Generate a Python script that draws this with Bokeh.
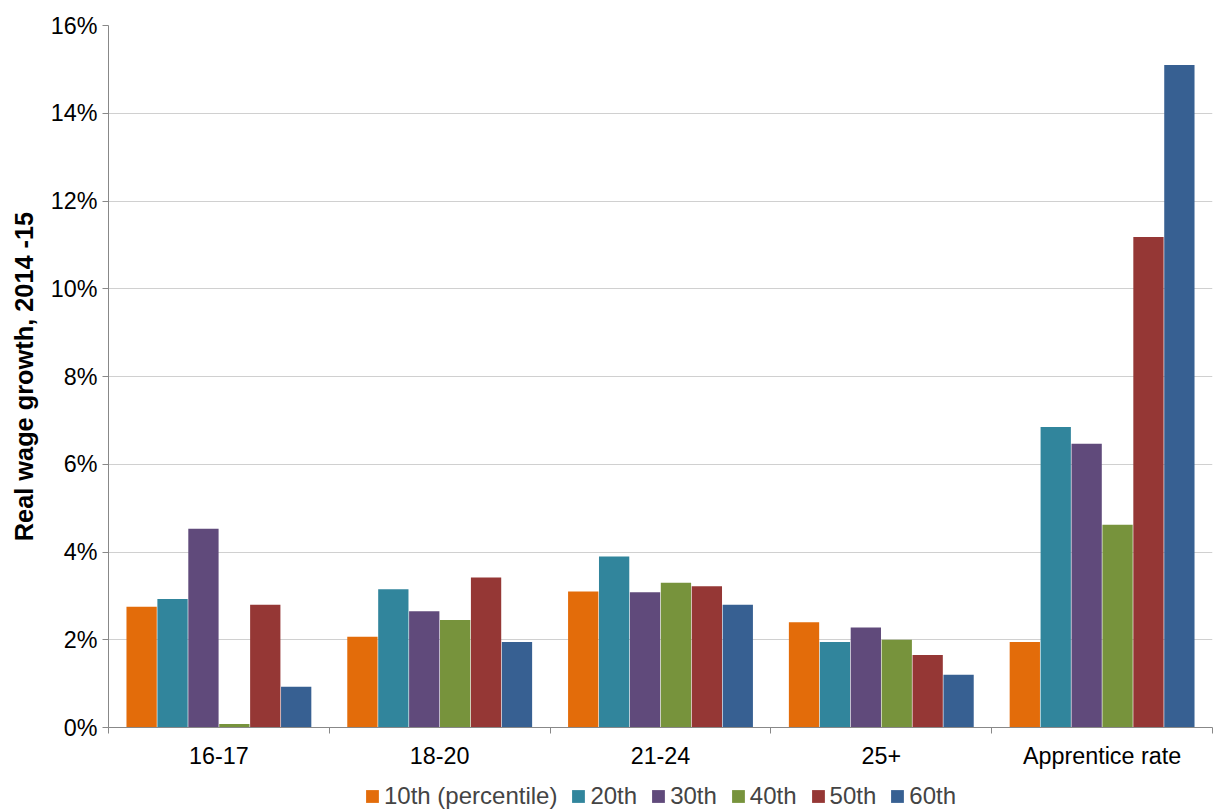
from bokeh.embed import file_html
from bokeh.resources import INLINE
from bokeh.layouts import column
from bokeh.models import ColumnDataSource, FixedTicker, Legend, LegendItem, Range1d
from bokeh.plotting import figure

#-- data
groups = ["16-17", "18-20", "21-24", "25+", "Apprentice rate"]
series = ["10th (percentile)", "20th", "30th", "40th", "50th", "60th"]
colors = ["#E36C0A", "#31859C", "#604A7B", "#77933C", "#953735", "#376092"]
values = {
    "10th (percentile)": [2.75, 2.07, 3.10, 2.40, 1.95],
    "20th": [2.93, 3.15, 3.90, 1.95, 6.85],
    "30th": [4.53, 2.65, 3.08, 2.28, 6.47],
    "40th": [0.08, 2.45, 3.30, 2.00, 4.62],
    "50th": [2.80, 3.42, 3.22, 1.65, 11.18],
    "60th": [0.93, 1.95, 2.80, 1.20, 15.10],
}

FONT = "Liberation Sans"

p = figure(
    width=1215, height=782,
    output_backend="svg", toolbar_location=None,
    x_range=Range1d(0, 5), y_range=Range1d(0, 16),
    min_border_left=108, min_border_right=3, min_border_top=25, min_border_bottom=55,
)
p.outline_line_color = None

#-- separate strip holding only the legend
leg_fig = figure(
    width=1215, height=28, output_backend="svg", toolbar_location=None,
    x_range=Range1d(0, 5), y_range=Range1d(100, 101),
    min_border=0,
)
leg_fig.outline_line_color = None
leg_fig.axis.visible = False
leg_fig.grid.visible = False

bar_w = 0.14
items = []
for i, name in enumerate(series):
    xs = [g + 0.5 + (i - 2.5) * bar_w for g in range(len(groups))]
    src = ColumnDataSource(dict(x=xs, top=values[name]))
    p.vbar(x="x", top="top", width=bar_w * 0.98, bottom=0, source=src,
           fill_color=colors[i], line_color=None)
    r = leg_fig.vbar(x="x", top="top", width=bar_w, bottom=0, source=src,
                     fill_color=colors[i], line_color=None)
    items.append(LegendItem(label=name, renderers=[r]))

p.xaxis.ticker = FixedTicker(ticks=[g + 0.5 for g in range(5)], minor_ticks=list(range(6)))
p.xaxis.major_label_overrides = {g + 0.5: groups[g] for g in range(5)}
p.xaxis.major_tick_line_color = None
p.xaxis.minor_tick_out = 6
p.xaxis.minor_tick_in = 0
p.xaxis.minor_tick_line_color = "#888888"
p.xaxis.axis_line_color = "#888888"
p.xaxis.major_label_text_font_size = "17.5pt"
p.xaxis.major_label_text_font = FONT
p.xaxis.major_label_text_color = "black"
p.xaxis.major_label_standoff = 9

p.yaxis.ticker = FixedTicker(ticks=list(range(0, 17, 2)))
p.yaxis.major_label_overrides = {v: f"{v}%" for v in range(0, 17, 2)}
p.yaxis.minor_tick_line_color = None
p.yaxis.major_tick_in = 0
p.yaxis.major_tick_out = 6
p.yaxis.major_tick_line_color = "#888888"
p.yaxis.axis_line_color = "#888888"
p.yaxis.major_label_text_font_size = "17.5pt"
p.yaxis.major_label_text_font = FONT
p.yaxis.major_label_text_color = "black"
p.yaxis.axis_label = "Real wage growth, 2014 -15"
p.yaxis.axis_label_text_font = FONT
p.yaxis.axis_label_text_font_style = "bold"
p.yaxis.axis_label_text_font_size = "19pt"
p.yaxis.axis_label_text_color = "black"
p.yaxis.axis_label_standoff = 10

p.xgrid.grid_line_color = None
p.ygrid.grid_line_color = "#D0D0D0"

legend = Legend(items=items, orientation="horizontal", location="center",
                label_text_font=FONT, label_text_font_size="18pt",
                glyph_width=16, glyph_height=16, spacing=13, label_standoff=4,
                padding=0, margin=0, border_line_color=None, background_fill_alpha=0)
leg_fig.add_layout(legend)

layout = column(p, leg_fig, spacing=0)
open("out.html", "w").write(file_html(layout, INLINE))
